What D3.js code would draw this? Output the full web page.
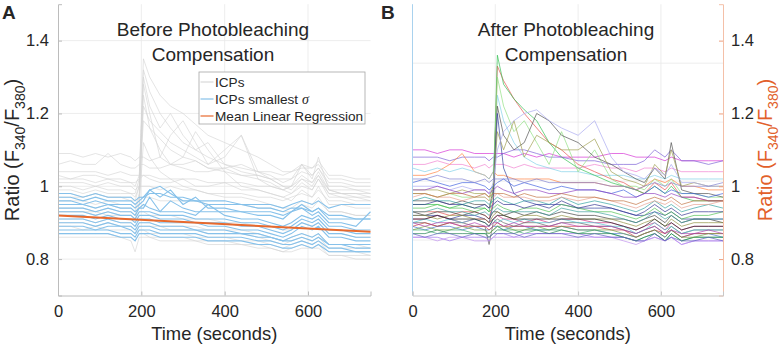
<!DOCTYPE html>
<html lang="en">
<head>
<meta charset="utf-8">
<title>Photobleaching Compensation</title>
<script src="https://cdnjs.cloudflare.com/ajax/libs/d3/7.8.5/d3.min.js"></script>
<style>
  body { margin: 0; background: #fff; }
  svg text { font-family: "Liberation Sans", Arial, sans-serif; fill: #262626; }
  .trace { fill: none; }
</style>
</head>
<body>
<svg id="chart" width="782" height="347"></svg>
<script>
// sample times (seconds)
const timePoints = [0, 30, 60, 90, 120, 150, 175, 185, 195, 205, 220, 245, 270, 300, 330, 360, 400, 440, 480, 510, 540, 560, 585, 610, 625, 650, 680, 715, 750];

// panel A: all ICPs (grey)
const icpGray = [
  [1.09,1.09,1.08,1.09,1.08,1.09,1.08,1.07,1.08,1.08,1.07,1.08,1.06,1.06,1.07,1.05,1.05,1.06,1.04,1.04,1.03,1.04,1.06,1.05,1.07,1.03,1.03,1.02,1.02],
  [1.06,1.07,1.06,1.06,1.09,1.06,1.05,1.05,1.06,1.06,1.05,1.05,1.06,1.05,1.04,1.04,1.05,1.03,1.03,1.02,1.02,1.02,1.04,1.03,1.05,1.01,1.01,1.00,1.00],
  [1.03,1.02,1.03,1.03,1.02,1.02,1.01,1.01,1.02,1.03,1.02,1.01,1.01,1.02,1.00,1.00,1.01,0.99,0.99,0.98,0.97,0.98,1.00,0.99,1.02,0.98,0.97,0.97,0.96],
  [1.00,1.00,0.99,1.00,0.99,0.99,0.98,0.98,1.02,1.35,1.30,1.25,1.22,1.20,1.17,1.14,1.12,1.10,1.08,1.06,1.04,1.04,1.05,1.05,1.06,1.02,1.02,1.01,1.01],
  [0.97,0.97,0.97,0.98,0.97,0.97,0.96,0.96,1.00,1.32,1.26,1.20,1.16,1.12,1.10,1.08,1.06,1.04,1.03,1.02,1.00,1.00,1.03,1.01,1.04,0.99,0.98,0.98,0.97],
  [0.95,0.95,0.95,0.94,0.95,0.94,0.94,0.93,0.97,1.28,1.20,1.08,1.14,1.18,1.12,1.06,1.10,1.14,1.02,1.00,0.99,0.98,1.01,0.99,1.02,0.97,0.97,0.96,0.96],
  [0.93,0.93,0.93,0.93,0.92,0.92,0.92,0.91,0.95,1.25,1.16,1.10,1.06,1.08,1.15,1.10,1.04,1.00,0.99,0.98,0.97,0.96,0.99,0.97,1.00,0.95,0.95,0.94,0.94],
  [0.96,0.96,0.96,0.95,0.96,0.95,0.95,0.94,0.98,1.22,1.18,1.15,1.12,1.10,1.08,1.06,1.08,1.14,1.04,1.02,1.00,0.99,1.02,1.00,1.03,0.98,0.98,0.97,0.97],
  [0.99,0.99,0.98,0.99,0.98,0.98,0.98,0.97,1.00,1.18,1.16,1.13,1.10,1.08,1.07,1.05,1.04,1.03,1.02,1.01,0.99,1.00,1.06,1.02,1.08,0.99,0.98,0.98,0.98],
  [1.01,1.01,1.01,1.00,1.01,1.00,1.00,0.99,1.00,1.00,1.00,0.99,1.00,0.99,0.99,0.98,0.98,0.98,0.97,0.97,0.96,0.97,0.98,0.97,0.99,0.96,0.96,0.95,0.95],
  [0.89,0.89,0.88,0.89,0.88,0.88,0.88,0.87,0.88,0.88,0.87,0.87,0.87,0.87,0.86,0.86,0.86,0.85,0.85,0.84,0.83,0.84,0.85,0.84,0.85,0.82,0.82,0.82,0.81],
  [0.87,0.87,0.87,0.87,0.87,0.86,0.86,0.85,0.87,0.87,0.86,0.86,0.86,0.86,0.85,0.85,0.85,0.84,0.84,0.83,0.82,0.83,0.84,0.83,0.84,0.81,0.81,0.81,0.81],
  [0.91,0.91,0.91,0.90,0.91,0.90,0.90,0.89,0.90,0.90,0.90,0.89,0.89,0.89,0.89,0.88,0.88,0.88,0.87,0.86,0.85,0.86,0.87,0.86,0.87,0.84,0.84,0.84,0.83],
  [0.93,0.93,0.93,0.92,0.93,0.92,0.92,0.91,0.93,0.93,0.92,0.92,0.92,0.91,0.91,0.91,0.90,0.90,0.89,0.89,0.88,0.88,0.90,0.89,0.90,0.87,0.87,0.86,0.86],
  [0.86,0.86,0.86,0.86,0.86,0.86,0.85,0.82,0.86,0.86,0.86,0.85,0.85,0.85,0.85,0.84,0.84,0.84,0.83,0.83,0.82,0.82,0.83,0.83,0.83,0.81,0.81,0.80,0.80],
  [0.98,0.98,0.97,0.98,0.97,0.97,0.97,0.96,0.97,0.97,0.97,0.96,0.96,0.96,0.96,0.95,0.95,0.95,0.94,0.94,0.93,0.93,0.95,0.94,0.96,0.93,0.93,0.92,0.92],
  [1.04,1.04,1.04,1.04,1.03,1.04,1.03,1.03,1.03,1.03,1.03,1.02,1.02,1.02,1.02,1.01,1.01,1.01,1.00,1.00,0.99,1.00,1.02,1.01,1.03,0.99,0.99,0.99,0.98],
  [0.94,0.94,0.94,0.93,0.94,0.93,0.93,0.92,0.95,1.12,1.08,1.04,1.02,1.00,0.99,0.98,0.97,0.97,0.96,0.95,0.94,0.94,0.96,0.95,0.97,0.93,0.93,0.92,0.92],
  [0.90,0.90,0.90,0.89,0.90,0.89,0.89,0.88,0.89,0.89,0.89,0.89,0.88,0.88,0.88,0.87,0.87,0.87,0.86,0.85,0.84,0.85,0.86,0.85,0.86,0.83,0.83,0.83,0.83],
  [1.02,1.02,1.02,1.01,1.02,1.01,1.01,1.00,1.03,1.30,1.22,1.16,1.20,1.14,1.10,1.12,1.06,1.05,1.04,1.03,1.01,1.02,1.06,1.03,1.05,1.00,1.00,0.99,0.99]
];

// panel A: ICPs with smallest sigma (blue)
const icpBlue = [
  [0.98,0.98,0.97,0.98,0.97,0.97,0.97,0.96,0.97,0.97,0.98,0.98,0.97,0.97,0.96,0.96,0.96,0.95,0.95,0.95,0.94,0.95,0.96,0.95,0.96,0.94,0.95,0.95,0.95],
  [0.96,0.96,0.95,0.96,0.95,0.95,0.95,0.94,0.95,0.96,0.99,0.97,0.99,0.95,0.97,0.94,0.94,0.93,0.93,0.93,0.92,0.93,0.95,0.93,0.94,0.91,0.91,0.91,0.91],
  [0.94,0.94,0.94,0.93,0.94,0.93,0.93,0.92,0.94,0.95,0.94,0.93,0.93,0.93,0.92,0.95,0.92,0.91,0.91,0.90,0.89,0.90,0.92,0.91,0.92,0.89,0.89,0.88,0.88],
  [0.92,0.92,0.92,0.91,0.92,0.91,0.91,0.90,0.92,0.92,0.92,0.91,0.91,0.91,0.90,0.90,0.90,0.89,0.89,0.88,0.87,0.88,0.90,0.89,0.90,0.87,0.87,0.86,0.86],
  [0.90,0.90,0.90,0.89,0.90,0.89,0.89,0.88,0.90,0.90,0.90,0.89,0.89,0.89,0.88,0.88,0.88,0.87,0.87,0.86,0.85,0.86,0.87,0.86,0.87,0.84,0.84,0.84,0.84],
  [0.88,0.88,0.88,0.88,0.88,0.87,0.87,0.86,0.88,0.88,0.88,0.87,0.87,0.87,0.87,0.86,0.86,0.86,0.85,0.85,0.84,0.84,0.85,0.84,0.85,0.83,0.83,0.82,0.82],
  [0.95,0.95,0.95,0.94,0.95,0.94,0.94,0.93,0.94,0.94,0.97,0.93,0.96,0.94,0.93,0.93,0.93,0.93,0.92,0.92,0.91,0.93,0.94,0.92,0.93,0.90,0.90,0.89,0.93],
  [0.91,0.91,0.91,0.90,0.91,0.90,0.90,0.89,0.91,0.91,0.91,0.90,0.90,0.90,0.90,0.89,0.89,0.88,0.88,0.87,0.86,0.87,0.89,0.88,0.89,0.86,0.86,0.85,0.85],
  [0.89,0.89,0.89,0.88,0.89,0.89,0.88,0.87,0.89,0.89,0.89,0.88,0.88,0.88,0.88,0.87,0.87,0.87,0.86,0.86,0.85,0.85,0.86,0.85,0.86,0.84,0.84,0.83,0.83],
  [0.97,0.97,0.96,0.97,0.96,0.96,0.96,0.95,0.96,0.97,0.99,1.00,0.98,0.96,0.96,0.95,0.95,0.95,0.94,0.94,0.93,0.94,0.94,0.93,0.94,0.92,0.92,0.91,0.91],
  [0.93,0.93,0.93,0.92,0.93,0.92,0.92,0.91,0.93,0.93,0.93,0.92,0.92,0.92,0.91,0.91,0.91,0.90,0.90,0.89,0.88,0.89,0.91,0.90,0.91,0.88,0.88,0.87,0.87],
  [0.87,0.87,0.87,0.87,0.87,0.86,0.86,0.85,0.87,0.87,0.87,0.86,0.86,0.86,0.86,0.85,0.85,0.85,0.84,0.84,0.83,0.83,0.84,0.83,0.84,0.82,0.82,0.82,0.82]
];

// mean linear regression endpoints
const regressionTimes = [0, 750];
const regressionValues = [0.92, 0.875];

// panel B: compensated traces
const afterTraces = [
  [1.10,1.10,1.09,1.10,1.10,1.09,1.09,1.09,1.09,1.09,1.09,1.08,1.09,1.08,1.09,1.08,1.08,1.08,1.09,1.09,1.08,1.08,1.08,1.07,1.08,1.07,1.07,1.07,1.07],
  [1.08,1.08,1.08,1.07,1.08,1.08,1.08,1.07,1.08,1.08,1.09,1.10,1.10,1.09,1.08,1.08,1.07,1.07,1.06,1.06,1.06,1.07,1.10,1.08,1.10,1.07,1.07,1.06,1.07],
  [1.06,1.06,1.07,1.06,1.06,1.05,1.06,1.05,1.06,1.06,1.06,1.05,1.06,1.05,1.05,1.05,1.05,1.06,1.05,1.05,1.04,1.05,1.05,1.04,1.05,1.04,1.04,1.04,1.04],
  [1.03,1.03,1.04,1.06,1.09,1.04,1.03,1.02,1.04,1.03,1.03,1.02,1.02,1.02,1.02,1.01,1.01,1.01,1.00,1.00,0.99,1.00,1.02,1.01,1.02,1.00,1.00,0.99,0.99],
  [1.05,1.04,1.05,1.04,1.05,1.04,1.03,1.02,1.04,1.25,1.18,1.12,1.08,1.06,1.05,1.04,1.04,1.03,1.03,1.03,1.02,1.02,1.03,1.02,1.03,1.02,1.02,1.02,1.02],
  [0.93,0.93,0.93,0.92,0.93,0.93,0.92,0.91,0.96,1.33,1.29,1.24,1.20,1.16,1.12,1.10,1.06,1.04,1.02,1.01,0.99,0.98,1.01,0.99,1.01,0.97,0.97,0.96,0.96],
  [0.95,0.95,0.95,0.94,0.95,0.94,0.94,0.93,0.98,1.36,1.28,1.24,1.21,1.18,1.12,1.08,1.05,1.03,1.01,1.00,0.99,0.98,1.00,0.98,1.00,0.97,0.96,0.96,0.96],
  [0.98,0.98,0.97,0.98,0.97,0.97,0.97,0.96,1.00,1.30,1.22,1.15,1.18,1.12,1.06,1.15,1.04,1.10,1.02,1.00,1.00,0.99,1.02,1.00,1.02,0.98,0.98,0.97,0.97],
  [0.96,0.96,0.96,0.95,0.96,0.95,0.95,0.94,0.99,1.22,1.14,1.10,1.12,1.20,1.18,1.14,1.12,1.08,1.06,1.04,1.02,1.01,1.05,1.02,1.12,0.99,0.98,0.98,0.97],
  [0.92,0.92,0.92,0.91,0.92,0.92,0.91,0.90,0.95,1.20,1.05,0.98,0.96,0.95,0.95,0.95,0.94,0.94,0.94,0.93,0.92,0.92,0.93,0.92,0.93,0.91,0.91,0.91,0.91],
  [0.99,0.99,0.99,0.98,0.99,0.98,0.98,0.97,1.00,1.15,1.10,1.18,1.08,1.14,1.12,1.10,1.10,1.13,1.04,1.02,1.01,1.00,1.06,1.03,1.10,1.00,1.01,1.00,1.00],
  [1.00,1.00,1.00,0.99,1.00,0.99,0.99,0.98,1.01,1.10,1.15,1.18,1.20,1.21,1.18,1.16,1.14,1.18,1.08,1.04,1.03,1.02,1.05,1.03,1.06,1.01,1.01,1.00,1.00],
  [1.01,1.02,1.01,1.00,1.01,1.01,1.00,0.99,1.00,1.01,1.02,1.00,1.01,1.00,0.99,1.00,0.99,0.99,0.98,0.99,0.97,0.98,1.00,0.98,0.99,0.98,0.98,0.97,0.98],
  [0.99,0.99,1.00,0.99,0.98,0.99,0.99,0.98,0.99,1.00,0.99,0.98,0.99,0.99,0.98,0.98,0.99,0.99,0.98,0.97,0.97,0.98,0.98,0.97,0.98,0.97,0.97,0.96,0.96],
  [0.96,0.97,0.96,0.96,0.95,0.96,0.96,0.95,0.96,0.97,0.96,0.95,0.96,0.96,0.95,0.97,0.95,0.96,0.95,0.94,0.93,0.94,0.96,0.94,0.95,0.93,0.94,0.95,0.94],
  [0.94,0.94,0.95,0.94,0.94,0.93,0.94,0.93,0.94,0.95,0.94,0.93,0.94,0.94,0.93,0.95,0.94,0.93,0.93,0.92,0.91,0.92,0.94,0.92,0.93,0.91,0.92,0.92,0.93],
  [0.93,0.92,0.93,0.93,0.92,0.93,0.92,0.91,0.93,0.93,0.92,0.93,0.92,0.93,0.92,0.93,0.92,0.92,0.91,0.91,0.90,0.91,0.92,0.90,0.92,0.90,0.91,0.91,0.90],
  [0.91,0.91,0.92,0.91,0.90,0.91,0.91,0.90,0.91,0.92,0.91,0.91,0.90,0.91,0.90,0.91,0.91,0.90,0.90,0.89,0.88,0.89,0.90,0.88,0.90,0.88,0.89,0.89,0.89],
  [0.90,0.90,0.89,0.90,0.90,0.89,0.89,0.84,0.90,0.91,0.90,0.89,0.90,0.90,0.89,0.90,0.90,0.89,0.89,0.88,0.87,0.88,0.89,0.87,0.89,0.87,0.88,0.88,0.88],
  [0.89,0.88,0.89,0.89,0.88,0.89,0.88,0.88,0.89,0.89,0.88,0.89,0.89,0.88,0.88,0.89,0.88,0.88,0.87,0.87,0.86,0.87,0.88,0.86,0.88,0.86,0.87,0.87,0.86],
  [0.88,0.88,0.87,0.88,0.88,0.87,0.87,0.87,0.88,0.89,0.88,0.88,0.87,0.88,0.88,0.88,0.87,0.88,0.87,0.86,0.85,0.86,0.87,0.85,0.87,0.85,0.86,0.86,0.86],
  [0.86,0.86,0.86,0.85,0.86,0.86,0.86,0.85,0.86,0.87,0.87,0.86,0.87,0.87,0.87,0.87,0.87,0.86,0.86,0.86,0.85,0.85,0.86,0.85,0.86,0.84,0.85,0.85,0.85],
  [0.92,0.92,0.91,0.92,0.92,0.91,0.91,0.90,0.92,0.93,0.92,0.91,0.92,0.92,0.91,0.92,0.91,0.91,0.91,0.90,0.89,0.90,0.91,0.89,0.91,0.89,0.90,0.90,0.90],
  [0.95,0.95,0.96,0.95,0.95,0.94,0.95,0.94,0.95,0.96,0.95,0.95,0.94,0.95,0.94,0.96,0.94,0.95,0.94,0.93,0.92,0.93,0.95,0.93,0.94,0.92,0.93,0.93,0.93],
  [0.97,0.98,0.97,0.97,0.96,0.97,0.97,0.96,0.97,0.98,0.97,0.97,0.97,0.96,0.96,0.97,0.96,0.97,0.96,0.95,0.94,0.95,0.96,0.95,0.96,0.94,0.95,0.95,0.96],
  [0.90,0.91,0.90,0.91,0.90,0.91,0.90,0.89,0.91,0.90,0.91,0.90,0.91,0.90,0.90,0.91,0.90,0.90,0.89,0.89,0.87,0.88,0.90,0.88,0.89,0.87,0.88,0.88,0.88],
  [0.89,0.90,0.89,0.90,0.89,0.89,0.89,0.88,0.89,0.90,0.89,0.89,0.89,0.89,0.89,0.89,0.89,0.89,0.88,0.88,0.86,0.87,0.88,0.87,0.88,0.86,0.87,0.87,0.87],
  [0.87,0.87,0.88,0.87,0.87,0.87,0.87,0.86,0.87,0.88,0.88,0.87,0.88,0.88,0.87,0.88,0.87,0.87,0.87,0.86,0.85,0.86,0.87,0.85,0.87,0.85,0.86,0.86,0.86],
  [0.91,0.91,0.92,0.91,0.91,0.91,0.90,0.89,0.91,0.92,0.92,0.91,0.91,0.91,0.91,0.91,0.91,0.91,0.90,0.89,0.88,0.89,0.91,0.89,0.90,0.88,0.89,0.89,0.89],
  [0.86,0.86,0.85,0.86,0.86,0.85,0.85,0.85,0.86,0.86,0.86,0.86,0.86,0.86,0.86,0.86,0.86,0.86,0.86,0.85,0.84,0.85,0.86,0.85,0.86,0.84,0.85,0.85,0.85],
  [0.88,0.89,0.88,0.88,0.89,0.88,0.88,0.87,0.88,0.89,0.89,0.88,0.88,0.89,0.88,0.89,0.88,0.88,0.88,0.87,0.86,0.87,0.88,0.86,0.88,0.86,0.86,0.87,0.87],
  [0.90,0.89,0.90,0.90,0.89,0.90,0.89,0.89,0.90,0.90,0.89,0.90,0.89,0.89,0.89,0.90,0.89,0.89,0.89,0.88,0.87,0.88,0.89,0.87,0.88,0.87,0.87,0.88,0.87],
  [0.87,0.86,0.87,0.87,0.86,0.87,0.86,0.86,0.87,0.87,0.87,0.87,0.86,0.87,0.87,0.87,0.86,0.87,0.86,0.86,0.85,0.85,0.87,0.85,0.86,0.85,0.85,0.86,0.85],
  [0.93,0.93,0.94,0.93,0.93,0.92,0.93,0.92,0.93,0.94,0.93,0.93,0.93,0.93,0.92,0.94,0.93,0.93,0.92,0.91,0.90,0.91,0.93,0.91,0.92,0.90,0.91,0.91,0.91],
  [0.98,0.98,0.97,0.98,0.98,0.97,0.98,0.97,0.98,0.98,0.98,0.97,0.98,0.97,0.97,0.98,0.97,0.97,0.96,0.96,0.95,0.96,0.97,0.96,0.97,0.95,0.96,0.96,0.96],
  [1.02,1.02,1.03,1.02,1.02,1.01,1.02,1.01,1.02,1.02,1.02,1.02,1.01,1.02,1.01,1.01,1.01,1.01,1.00,1.00,0.99,1.00,1.01,1.00,1.01,1.00,1.00,1.00,1.01]
];

const xTicks = [0, 200, 400, 600];
const yTicks = [0.8, 1, 1.2, 1.4];
const legendLabels = ["ICPs", "ICPs smallest ", "Mean Linear Regression"];

// colours for the compensated traces
const afterPalette = ["#d42fd4", "#7b5fd6", "#f07fd0", "#ff7f3f", "#7fd0e8", "#e84f4f", "#2fbf4f",
  "#8fe07f", "#505050", "#2f3f9f", "#9f9f4f", "#a8a8f0", "#3f5fdf", "#8f3fbf", "#2fa0a0",
  "#4fbf4f", "#404040", "#cf2f7f", "#606060", "#3f6fd0", "#3faf6f", "#9f6fef", "#8f8f3f",
  "#2f2f8f", "#e89f8f", "#4fc0d0", "#d03f3f", "#1f7f4f", "#202020", "#bf8fef",
  "#6f9f3f", "#af3faf", "#5f5fbf", "#3f9f9f", "#c07040", "#7f7fcf"];

const svg = d3.select("#chart");
svg.append("rect").attr("width", 782).attr("height", 347).attr("fill", "#fff");

const yScale = d3.scaleLinear().domain([0.7, 1.5]).range([295.5, 4.2]);
const xA = d3.scaleLinear().domain([0, 750]).range([58, 370.5]);
const xB = d3.scaleLinear().domain([0, 750]).range([412.5, 723]);
// hidden left axis of panel B (only its grid shows)
const yLeftB = d3.scaleLinear().domain([0.012, 1]).range([295.5, 4.2]);

function traceLine(x) {
  return d3.line().x((d, i) => x(timePoints[i])).y(d => yScale(d));
}

function grid(x, yS, yT) {
  const g = svg.append("g").attr("stroke", "#e8e8e8").attr("stroke-width", 0.8);
  g.selectAll(".gx").data(xTicks.filter(t => t > 0)).join("line")
    .attr("x1", d => x(d)).attr("x2", d => x(d))
    .attr("y1", yS.range()[0]).attr("y2", yS.range()[1]);
  g.selectAll(".gy").data(yT).join("line")
    .attr("x1", x.range()[0]).attr("x2", x.range()[1])
    .attr("y1", d => yS(d)).attr("y2", d => yS(d));
}

function xAxis(x, lineColor) {
  const g = svg.append("g").attr("transform", "translate(0,295.5)")
    .call(d3.axisBottom(x).tickValues(xTicks).tickSize(-4).tickPadding(10).tickFormat(d3.format("d")));
  g.select(".domain").attr("stroke", lineColor);
  g.selectAll(".tick line").attr("stroke", lineColor);
  g.selectAll("text").attr("font-size", 16.5).attr("fill", "#262626")
    .attr("font-family", "Liberation Sans, Arial, sans-serif");
  svg.append("text").attr("x", (x.range()[0] + x.range()[1]) / 2).attr("y", 340)
    .attr("text-anchor", "middle").attr("font-size", 18.4).text("Time (seconds)");
}

function yLabel(x, color) {
  const t = svg.append("text").attr("transform", `translate(${x},150) rotate(-90)`)
    .attr("text-anchor", "middle").attr("font-size", 20).style("fill", color);
  t.append("tspan").text("Ratio (F");
  t.append("tspan").attr("dy", 6).attr("font-size", 14).text("340");
  t.append("tspan").attr("dy", -6).text("/F");
  t.append("tspan").attr("dy", 6).attr("font-size", 14).text("380");
  t.append("tspan").attr("dy", -6).text(")");
}

function title(cx, first) {
  svg.append("text").attr("x", cx).attr("y", 36).attr("text-anchor", "middle")
    .attr("font-size", 19).text(first);
  svg.append("text").attr("x", cx).attr("y", 61).attr("text-anchor", "middle")
    .attr("font-size", 19).text("Compensation");
}

// ---------- panel A ----------
grid(xA, yScale, yTicks);

svg.append("g").selectAll("path").data(icpGray).join("path")
  .attr("class", "trace").attr("d", traceLine(xA))
  .attr("stroke", "#d4d4d4").attr("stroke-width", 0.9).attr("stroke-opacity", 0.7);

svg.append("g").selectAll("path").data(icpBlue).join("path")
  .attr("class", "trace").attr("d", traceLine(xA))
  .attr("stroke", "#86c1ea").attr("stroke-width", 1.1);

svg.append("path").datum(regressionValues)
  .attr("class", "trace")
  .attr("d", d3.line().x((d, i) => xA(regressionTimes[i])).y(d => yScale(d)))
  .attr("stroke", "#e8692d").attr("stroke-width", 2);

const axA = svg.append("g").attr("transform", "translate(58,0)")
  .call(d3.axisLeft(yScale).tickValues(yTicks).tickSize(-4).tickPadding(9).tickFormat(d3.format("")));
axA.select(".domain").attr("stroke", "#bcbcbc");
axA.selectAll(".tick line").attr("stroke", "#bcbcbc");
axA.selectAll("text").attr("font-size", 16.5).attr("fill", "#262626")
  .attr("font-family", "Liberation Sans, Arial, sans-serif");
xAxis(xA, "#bcbcbc");
yLabel(18.5, "#262626");
title(213, "Before Photobleaching");

// legend
const legend = svg.append("g");
legend.append("rect").attr("x", 199).attr("y", 72).attr("width", 166).attr("height", 52)
  .attr("fill", "#fff").attr("stroke", "#a6a6a6").attr("stroke-width", 0.8);
const legendColors = ["#d9d9d9", "#86c1ea", "#e8692d"];
legendLabels.forEach((lab, i) => {
  const yy = 82 + i * 17;
  legend.append("line").attr("x1", 200.5).attr("x2", 213.5).attr("y1", yy).attr("y2", yy)
    .attr("stroke", legendColors[i]).attr("stroke-width", 1.2);
  const t = legend.append("text").attr("x", 215).attr("y", yy + 5).attr("font-size", 13.6).text(lab);
  if (i === 1) t.append("tspan").attr("font-family", "Liberation Serif, serif")
    .attr("font-style", "italic").attr("font-size", 14).text("σ");
});

svg.append("text").attr("x", 2).attr("y", 18.5).attr("font-size", 19).attr("font-weight", "bold").text("A");

// ---------- panel B ----------
grid(xB, yLeftB, [0.2, 0.4, 0.6, 0.8]);

svg.append("g").selectAll("path").data(afterTraces).join("path")
  .attr("class", "trace").attr("d", traceLine(xB))
  .attr("stroke", (d, i) => afterPalette[i % afterPalette.length])
  .attr("stroke-width", 0.8).attr("stroke-opacity", 0.85);

svg.append("line").attr("x1", 412.5).attr("x2", 412.5).attr("y1", 4.2).attr("y2", 295.5)
  .attr("stroke", "#a9d2ee").attr("stroke-width", 1);

const axB = svg.append("g").attr("transform", "translate(723,0)")
  .call(d3.axisRight(yScale).tickValues(yTicks).tickSize(-4).tickPadding(8).tickFormat(d3.format("")));
axB.select(".domain").attr("stroke", "#f4c0a8");
axB.selectAll(".tick line").attr("stroke", "#eea080");
axB.selectAll("text").attr("font-size", 16.5).attr("fill", "#e2602a")
  .attr("font-family", "Liberation Sans, Arial, sans-serif");
xAxis(xB, "#c8c8c8");
yLabel(772, "#e2602a");
title(566, "After Photobleaching");

svg.append("text").attr("x", 381).attr("y", 18.5).attr("font-size", 19).attr("font-weight", "bold").text("B");
</script>
</body>
</html>
